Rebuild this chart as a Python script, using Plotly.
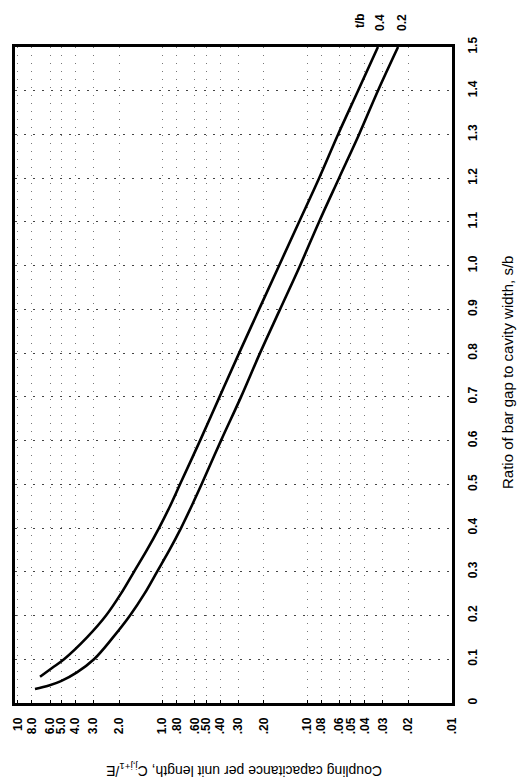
import plotly.graph_objects as go

# s/b values and coupling capacitance for t/b = 0.4
sb_t04 = [0.06, 0.08, 0.10, 0.15, 0.20, 0.25, 0.30, 0.35, 0.40, 0.45, 0.50, 0.60, 0.70,
          0.80, 0.90, 1.00, 1.10, 1.20, 1.30, 1.40, 1.50]
cap_t04 = [7.03, 5.81, 4.80, 3.33, 2.46, 1.94, 1.577, 1.282, 1.059, 0.889, 0.758, 0.551, 0.404,
           0.296, 0.2156, 0.1568, 0.114, 0.0829, 0.0613, 0.0446, 0.0325]

# s/b values and coupling capacitance for t/b = 0.2
sb_t02 = [0.032, 0.04, 0.05, 0.07, 0.10, 0.15, 0.20, 0.25, 0.30, 0.35, 0.40, 0.45, 0.50,
          0.60, 0.70, 0.80, 0.90, 1.00, 1.10, 1.20, 1.30, 1.40, 1.50]
cap_t02 = [7.62, 6.10, 5.04, 3.91, 2.98, 2.202, 1.680, 1.334, 1.093, 0.896, 0.746, 0.631, 0.5377,
           0.395, 0.287, 0.2123, 0.1544, 0.1123, 0.0830, 0.0604, 0.0439, 0.0325, 0.0236]

cap_tickvals = [10, 8, 6, 5, 4, 3, 2, 1, 0.8, 0.6, 0.5, 0.4, 0.3, 0.2,
                0.1, 0.08, 0.06, 0.05, 0.04, 0.03, 0.02, 0.01]
cap_ticktext = ["10", "8.0", "6.0", "5.0", "4.0", "3.0", "2.0", "1.0", ".80", ".60", ".50",
                ".40", ".30", ".20", ".10", ".08", ".06", ".05", ".04", ".03", ".02", ".01"]
sb_tickvals = [0, 0.1, 0.2, 0.3, 0.4, 0.5, 0.6, 0.7, 0.8, 0.9, 1.0, 1.1, 1.2, 1.3, 1.4, 1.5]
sb_ticktext = ["0", "0.1", "0.2", "0.3", "0.4", "0.5", "0.6", "0.7", "0.8", "0.9",
               "1.0", "1.1", "1.2", "1.3", "1.4", "1.5"]

L, R, T, B = 15, 452, 47, 703
W, H = 524, 782


def px(xp):
    return (xp - L) / (R - L)


def py(yp):
    return (B - yp) / (B - T)


fig = go.Figure()
fig.add_trace(go.Scatter(x=cap_t04, y=sb_t04, mode="lines", line=dict(color="black", width=2.6, shape="spline"),
                         name="t/b = 0.4", hoverinfo="skip"))
fig.add_trace(go.Scatter(x=cap_t02, y=sb_t02, mode="lines", line=dict(color="black", width=2.6, shape="spline"),
                         name="t/b = 0.2", hoverinfo="skip"))

tickfont = dict(family="Liberation Sans, Arial, sans-serif", size=12, color="black", weight="bold")

fig.update_layout(
    width=W, height=H,
    margin=dict(l=L, r=W - R, t=T, b=H - B),
    paper_bgcolor="white", plot_bgcolor="white",
    showlegend=False,
    xaxis=dict(
        type="log", range=[1.02, -2.0], autorange=False,
        tickvals=cap_tickvals, ticktext=cap_ticktext, tickangle=-90,
        tickfont=tickfont, ticks="inside", ticklen=3, tickcolor="black",
        showline=True, linecolor="black", linewidth=2.5, mirror=True,
        showgrid=True, gridcolor="#777", gridwidth=1, griddash="1px,7px",
        zeroline=False, ticklabelstandoff=7,
    ),
    yaxis=dict(
        range=[0, 1.5], autorange=False, side="right",
        tickvals=sb_tickvals, ticktext=sb_ticktext, tickangle=-90,
        tickfont=tickfont, ticks="",
        showline=True, linecolor="black", linewidth=2.5, mirror=True,
        showgrid=True, gridcolor="#444", gridwidth=1, griddash="2px,7px",
        zeroline=False, ticklabelstandoff=8,
    ),
)

titlefont = dict(family="Liberation Sans, Arial, sans-serif", size=14, color="black")
ann = [
    dict(x=px(244), y=py(770), text="Coupling capacitance per unit length, C<sub>j,j+1</sub>/E",
         textangle=180, font=titlefont),
    dict(x=px(507), y=py(372), text="Ratio of bar gap to cavity width, s/b",
         textangle=-90, font=dict(titlefont, size=15)),
    dict(x=px(360), y=py(21), text="t/b", textangle=-90, font=tickfont),
    dict(x=px(380), y=py(23), text="0.4", textangle=-90, font=tickfont),
    dict(x=px(402), y=py(23), text="0.2", textangle=-90, font=tickfont),
]
for a in ann:
    a.update(xref="paper", yref="paper", showarrow=False, xanchor="center", yanchor="middle")
fig.update_layout(annotations=ann)

fig.write_html("out.html", config={"displayModeBar": False},
               post_script="document.body.style.margin='0px';document.body.style.overflow='hidden';")
